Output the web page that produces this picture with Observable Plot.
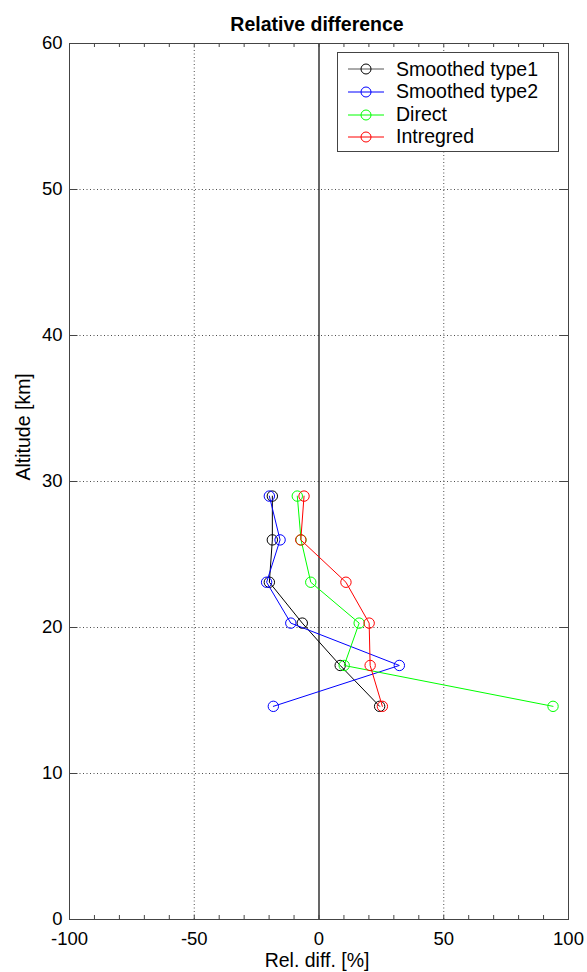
<!DOCTYPE html>
<html>
<head>
<meta charset="utf-8">
<script src="https://cdn.jsdelivr.net/npm/d3@7"></script>
<script src="https://cdn.jsdelivr.net/npm/@observablehq/plot@0.6"></script>
<style>
  html, body { margin: 0; padding: 0; background: white; }
  #wrap { position: relative; width: 587px; height: 972px; font-family: "Liberation Sans", Arial, sans-serif; }
  #legend { position: absolute; left: 337px; top: 52px; width: 220px; height: 98px; border: 1px solid #444; background: white; }
  .row { position: absolute; left: 0; height: 22px; display: flex; align-items: center; font-size: 19.5px; color: #000; }
  .row svg { margin-left: 10px; margin-right: 12px; }
</style>
</head>
<body>
<div id="wrap"></div>
<script>
// Data
const altitude = [29.0, 26.0, 23.1, 20.3, 17.4, 14.6];
const smoothedType1 = [-18.7, -18.7, -19.9, -6.7, 8.5, 24.3];
const smoothedType2 = [-19.9, -15.6, -21.0, -11.3, 32.2, -18.3];
const direct = [-8.7, -7.2, -3.3, 16.1, 10.1, 93.8];
const intregred = [-6.0, -7.3, 10.8, 20.1, 20.5, 25.4];

const seriesNames = ["Smoothed type1", "Smoothed type2", "Direct", "Intregred"];
const seriesColors = ["#000000", "#0000ff", "#00ff00", "#ff0000"];
const seriesValues = [smoothedType1, smoothedType2, direct, intregred];

const xTickLabels = [-100, -50, 0, 50, 100];
const xMinorTicks = d3.range(-90, 100, 10);
const yTickLabels = [0, 10, 20, 30, 40, 50, 60];
const yGrid = [10, 20, 30, 40, 50];
const xGrid = [-50, 50];

const rows = [];
seriesNames.forEach((name, i) => {
  altitude.forEach((a, j) => rows.push({series: name, alt: a, val: seriesValues[i][j], color: seriesColors[i]}));
});

const W = 587, H = 972;
const mL = 69, mR = 19, mT = 43, mB = 53;
const plotW = W - mL - mR, plotH = H - mT - mB;

const lineMarks = seriesNames.flatMap((name, i) => {
  const d = rows.filter(r => r.series === name);
  return [
    Plot.line(d, {x: "val", y: "alt", stroke: seriesColors[i], strokeWidth: 1}),
    Plot.dot(d, {x: "val", y: "alt", stroke: seriesColors[i], r: 5.2, strokeWidth: 1, fill: "none"})
  ];
});

const chart = Plot.plot({
  width: W, height: H,
  marginLeft: mL, marginRight: mR, marginTop: mT, marginBottom: mB,
  style: {fontFamily: "'Liberation Sans', Arial, sans-serif", fontSize: "18px", background: "white", color: "#000", overflow: "visible"},
  x: {domain: [-100, 100], nice: false},
  y: {domain: [0, 60], nice: false},
  marks: [
    Plot.gridX(xGrid, {stroke: "#000", strokeOpacity: 0.7, strokeDasharray: "1,2.5"}),
    Plot.gridY(yGrid, {stroke: "#000", strokeOpacity: 0.7, strokeDasharray: "1,2.5"}),
    Plot.ruleX([0], {stroke: "#000", strokeWidth: 1.2}),
    Plot.tickX(xMinorTicks, {x: d => d, insetTop: plotH - 4, stroke: "#444"}),
    Plot.tickX(xMinorTicks, {x: d => d, insetBottom: plotH - 4, stroke: "#444"}),
    Plot.tickY(yTickLabels, {y: d => d, insetLeft: plotW - 8.5, stroke: "#444"}),
    Plot.tickY(yTickLabels, {y: d => d, insetRight: plotW - 8.5, stroke: "#444"}),
    Plot.frame({stroke: "#444"}),
    Plot.axisX(xTickLabels, {tickSize: 0, tickPadding: 12, label: null, fontSize: 18.5, tickFormat: d => String(d)}),
    Plot.axisY(yTickLabels, {tickSize: 0, tickPadding: 7, label: null, fontSize: 18.5, tickFormat: d => String(d)}),
    ...lineMarks,
    Plot.text(["Relative difference"], {frameAnchor: "top", lineAnchor: "middle", dy: -19, dx: -2, fontWeight: "bold", fontSize: 19.5}),
    Plot.text(["Rel. diff. [%]"], {frameAnchor: "bottom", lineAnchor: "middle", dy: 41.5, dx: -2, fontSize: 19.5}),
    Plot.text(["Altitude [km]"], {frameAnchor: "left", lineAnchor: "middle", rotate: -90, dx: -46, dy: -1, fontSize: 19.5})
  ]
});

const wrap = document.getElementById("wrap");
wrap.appendChild(chart);

const legend = document.createElement("div");
legend.id = "legend";
const rowTops = [5, 27.5, 50.5, 72.5];
seriesNames.forEach((name, i) => {
  const row = document.createElement("div");
  row.className = "row";
  row.style.top = rowTops[i] + "px";
  const c = seriesColors[i];
  const lineColor = i === 0 ? "#555" : c;
  row.innerHTML = `<svg width="36" height="14"><line x1="0" y1="7" x2="36" y2="7" stroke="${lineColor}" stroke-width="1"/><circle cx="18" cy="7" r="5" fill="none" stroke="${c}" stroke-width="1"/></svg><span>${name}</span>`;
  legend.appendChild(row);
});
wrap.appendChild(legend);
</script>
</body>
</html>
